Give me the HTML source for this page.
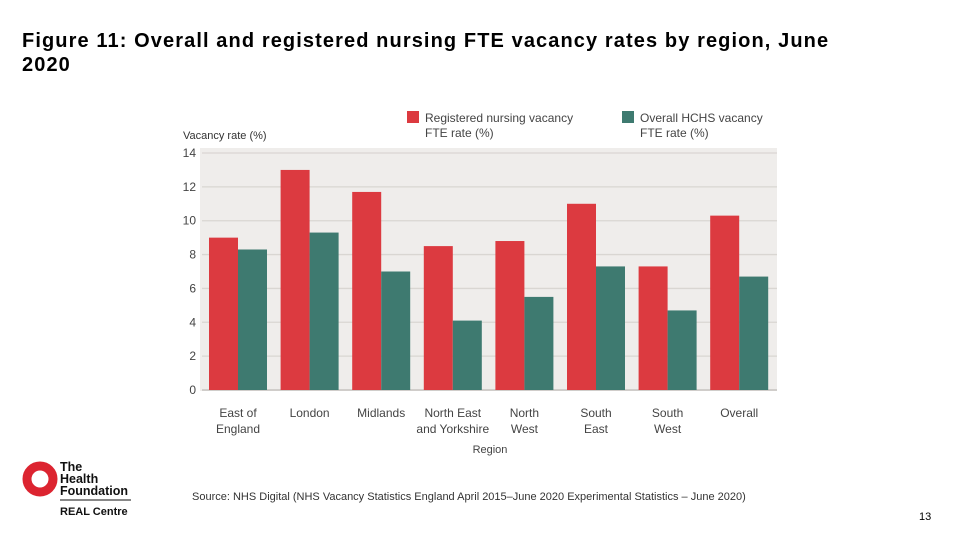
<!DOCTYPE html>
<html><head><meta charset="utf-8"><style>
body{margin:0;width:960px;height:540px;background:#fff;font-family:"Liberation Sans",sans-serif;position:relative;overflow:hidden}
#title{position:absolute;left:22px;top:29px;font-size:20px;font-weight:bold;line-height:24px;color:#000;width:830px;letter-spacing:1.1px}
#src{position:absolute;left:192px;top:491px;font-size:11px;color:#333}
#pg{position:absolute;left:919px;top:511px;font-size:11px;color:#000}
</style></head><body>
<div id="title">Figure 11: Overall and registered nursing FTE vacancy rates by region, June 2020</div>
<svg width="960" height="540" style="position:absolute;left:0;top:0">
<rect x="200" y="148" width="577" height="243" fill="#efedeb"/>
<g id="grid"></g><g id="bars"></g><g id="labels"></g>
<rect x="407" y="111" width="12" height="12" fill="#dc3a40"/>
<text x="425" y="122" font-size="12" fill="#444">Registered nursing vacancy</text>
<text x="425" y="137" font-size="12" fill="#444">FTE rate (%)</text>
<rect x="622" y="111" width="12" height="12" fill="#3e7a70"/>
<text x="640" y="122" font-size="12" fill="#444">Overall HCHS vacancy</text>
<text x="640" y="137" font-size="12" fill="#444">FTE rate (%)</text>
<text x="183" y="139" font-size="11" fill="#333">Vacancy rate (%)</text>
<text x="490" y="453" font-size="11" fill="#444" text-anchor="middle">Region</text>
<circle cx="40" cy="479" r="13" fill="none" stroke="#dc2430" stroke-width="9"/>
<text x="60" y="471" font-size="12.5" font-weight="bold" fill="#111">The</text>
<text x="60" y="483" font-size="12.5" font-weight="bold" fill="#111">Health</text>
<text x="60" y="495" font-size="12.5" font-weight="bold" fill="#111">Foundation</text>
<line x1="60" y1="500" x2="131" y2="500" stroke="#111" stroke-width="1"/>
<text x="60" y="515" font-size="11" font-weight="bold" fill="#111">REAL Centre</text>
</svg>
<div id="src">Source: NHS Digital (NHS Vacancy Statistics England April 2015–June 2020 Experimental Statistics – June 2020)</div>
<div id="pg">13</div>
<script>
const categories=[["East of","England"],["London"],["Midlands"],["North East","and Yorkshire"],["North","West"],["South","East"],["South","West"],["Overall"]];
const nursing=[9.0,13.0,11.7,8.5,8.8,11.0,7.3,10.3];
const overall=[8.3,9.3,7.0,4.1,5.5,7.3,4.7,6.7];
const yTicks=[0,2,4,6,8,10,12,14];
const NS="http://www.w3.org/2000/svg";
const y=v=>390-v*(237/14);
const x0=i=>209+i*71.6;
function mk(t,a,p){const e=document.createElementNS(NS,t);for(const k in a)e.setAttribute(k,a[k]);p.appendChild(e);return e;}
const grid=document.getElementById('grid'),bars=document.getElementById('bars'),lab=document.getElementById('labels');
yTicks.forEach(t=>{
 const l=mk('line',{x1:202,x2:777,y1:y(t),y2:y(t),stroke:t===0?'#bdbab6':'#d9d6d2','stroke-width':1.3},grid);
 
 
 const tx=mk('text',{x:196,y:y(t)+4,'font-size':12,fill:'#444','text-anchor':'end'},lab);
 tx.textContent=t;
 
 
});
categories.forEach((c,i)=>{
 const r=mk('rect',{x:x0(i),y:y(nursing[i]),width:29,height:390-y(nursing[i]),fill:'#dc3a40'},bars);
 
 
 const g=mk('rect',{x:x0(i)+29,y:y(overall[i]),width:29,height:390-y(overall[i]),fill:'#3e7a70'},bars);
 
 
 c.forEach((s,j)=>{
  const t=mk('text',{x:x0(i)+29,y:417+j*16,'font-size':12,fill:'#444','text-anchor':'middle'},lab);
  t.textContent=s;
  
  
 });
});
</script>
</body></html>
